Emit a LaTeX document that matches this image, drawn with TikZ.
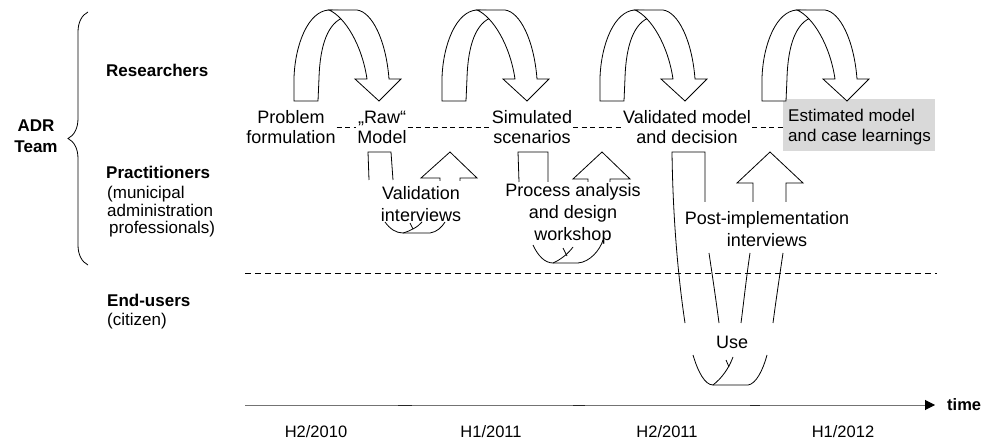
\documentclass[tikz,border=0pt]{standalone}
\usepackage{fontspec}
\setmainfont{Liberation Sans}
\usetikzlibrary{arrows.meta,decorations.pathreplacing}
\newcommand\toparrow[1]{%
\begin{scope}[xshift=#1pt]
\path[ribbon] (294,101) -- (294,78) .. controls (295,45) and (308,11) .. (329,10) -- (352,11) -- (345,17) .. controls (328,22) and (320,45) .. (319,78) -- (318,101) -- cycle;
\path[ribbon] (329,10) -- (357,10) .. controls (372,12) and (386,40) .. (389,79) -- (401,79) -- (379,101) -- (355,79) -- (367,79) .. controls (362,45) and (345,17) .. (329,10) -- cycle;
\end{scope}}
\begin{document}
\begin{tikzpicture}[x=1pt,y=-1pt,
  ribbon/.style={draw, fill=white, line width=0.8pt, line join=miter},
  edge/.style={draw, line width=0.8pt},
  txt/.style={inner sep=1pt, align=center, font=\fontsize{18}{20}\selectfont},
  loosetxt/.style={inner sep=1pt, align=center, font=\fontsize{18}{22}\selectfont},
  side/.style={inner sep=0pt, align=left, anchor=west, font=\fontsize{17}{17.5}\selectfont},
  sidebold/.style={inner sep=0pt, align=left, anchor=west, font=\fontsize{17}{21}\selectfont\bfseries},
  link/.style={draw, line width=0.8pt, dash pattern=on 5pt off 3.5pt},
  sepline/.style={draw, line width=0.8pt, dash pattern=on 6pt off 4pt},
  timelabel/.style={inner sep=0pt, font=\fontsize{16.5}{18}\selectfont},
]
\useasboundingbox (0,0) rectangle (984,443);

% left labels
\node[sidebold, anchor=center, align=center] (adr) at (36,136) {ADR\\Team};
\draw[line width=0.8pt, decorate, decoration={brace, amplitude=20pt}] (88,265) -- (88,12);
\node[sidebold] (res) at (106,70) {Researchers};
\node[sidebold] (prac) at (106,172) {Practitioners};
\node[side] (prac2) at (107,212) {(municipal\\administration\\\hspace{2pt}professionals)};
\node[sidebold] (endu) at (107,300) {End-users};
\node[side] (cit) at (107,321) {(citizen)};

% estimated box
\node[fill=black!15, minimum width=152pt, minimum height=52pt, inner sep=0pt] (est) at (859,125) {};
\node[inner sep=1pt, align=left, anchor=west, font=\fontsize{17}{20}\selectfont] (estt) at (787,127) {Estimated model\\and case learnings};

% researcher arrows
\toparrow{0}
\toparrow{148}
\toparrow{306}
\toparrow{468}

% researcher row texts
\node[txt] (pf) at (291,127) {Problem\\formulation};
\node[txt] (raw) at (382,127) {„Raw“\\Model};
\node[txt] (sim) at (532,127) {Simulated\\scenarios};
\node[txt] (val) at (687,127) {Validated model\\and decision};
\draw[link] (pf.east) -- (raw.west);
\draw[link] (raw.east) -- (sim.west);
\draw[link] (sim.east) -- (val.west);
\draw[link] (val.east) -- (val.east -| est.west);

% validation interviews loop
\draw[edge] (369,180) -- (368,152) -- (391,152) -- (393,180);
\draw[edge] (440,181) -- (440,178) -- (421,178) -- (450,152) -- (477,178) -- (460,178) -- (460,181);
\draw[edge] (385,222) .. controls (390,229) and (396,233) .. (403,233) -- (430,233) .. controls (437,232) and (442,227) .. (445,222);
\draw[edge] (403,233) .. controls (410,231) and (418,227) .. (422,222);
\draw[edge] (410,223) -- (413,229);
\node[loosetxt] (vi) at (421,204) {Validation\\interviews};

% process analysis loop
\draw[edge] (519,182) -- (518,152) -- (548,152) -- (548,182);
\draw[edge] (588,182) -- (588,179) -- (573,179) -- (602,152) -- (630,179) -- (610,179) -- (610,182);
\draw[edge] (533,245) .. controls (538,256) and (545,263) .. (553,263) -- (578,263) .. controls (590,262) and (600,250) .. (603,240);
\draw[edge] (553,263) .. controls (560,260) and (568,254) .. (573,247);
\draw[edge] (563,248) -- (567,256);
\node[loosetxt] (pa) at (573,214) {Process analysis\\and design\\workshop};

% use loop
\draw[edge] (685,323) .. controls (680,290) and (673,230) .. (672,152) -- (705,152) -- (705,202);
\draw[edge] (709,253) .. controls (713,280) and (716,300) .. (719,323);
\draw[edge] (753,202) -- (753,183) -- (737,183) -- (770,152) -- (803,183) -- (786,183) -- (786,202);
\draw[edge] (750,253) .. controls (746,280) and (744,300) .. (741,323);
\draw[edge] (783,253) .. controls (779,280) and (776,300) .. (773,323);
\draw[edge] (693,355) .. controls (698,372) and (705,385) .. (713,385) -- (748,385) .. controls (756,384) and (763,370) .. (767,355);
\draw[edge] (713,385) .. controls (722,378) and (729,368) .. (733,357);
\draw[edge] (726,360) -- (729,367);
\node[loosetxt] (pi) at (767,229) {Post-implementation\\interviews};
\node[txt] (use) at (732,342) {Use};

% separator
\coordinate (s0) at (245,273);
\coordinate (s1) at (937,273);
\draw[sepline] (s0) -- (s1);

% timeline
\coordinate (t0) at (245,405);
\node[inner sep=0pt, anchor=west, font=\fontsize{16.5}{18}\selectfont\bfseries] (time) at (947,405) {time};
\draw[line width=1pt, draw=black!55, -{Triangle[length=10pt,width=10pt,color=black]}] (t0) -- ([xshift=-12pt]time.west);
\draw[line width=1pt, draw=black!85] (398,405) -- (412,405);
\draw[line width=1pt, draw=black!85] (573,405) -- (585,405);
\draw[line width=1pt, draw=black!85] (750,405) -- (760,405);
\node[timelabel] (h1) at (316,432) {H2/2010};
\node[timelabel] (h2) at (491,432) {H1/2011};
\node[timelabel] (h3) at (667,432) {H2/2011};
\node[timelabel] (h4) at (843,432) {H1/2012};
\end{tikzpicture}
\end{document}
